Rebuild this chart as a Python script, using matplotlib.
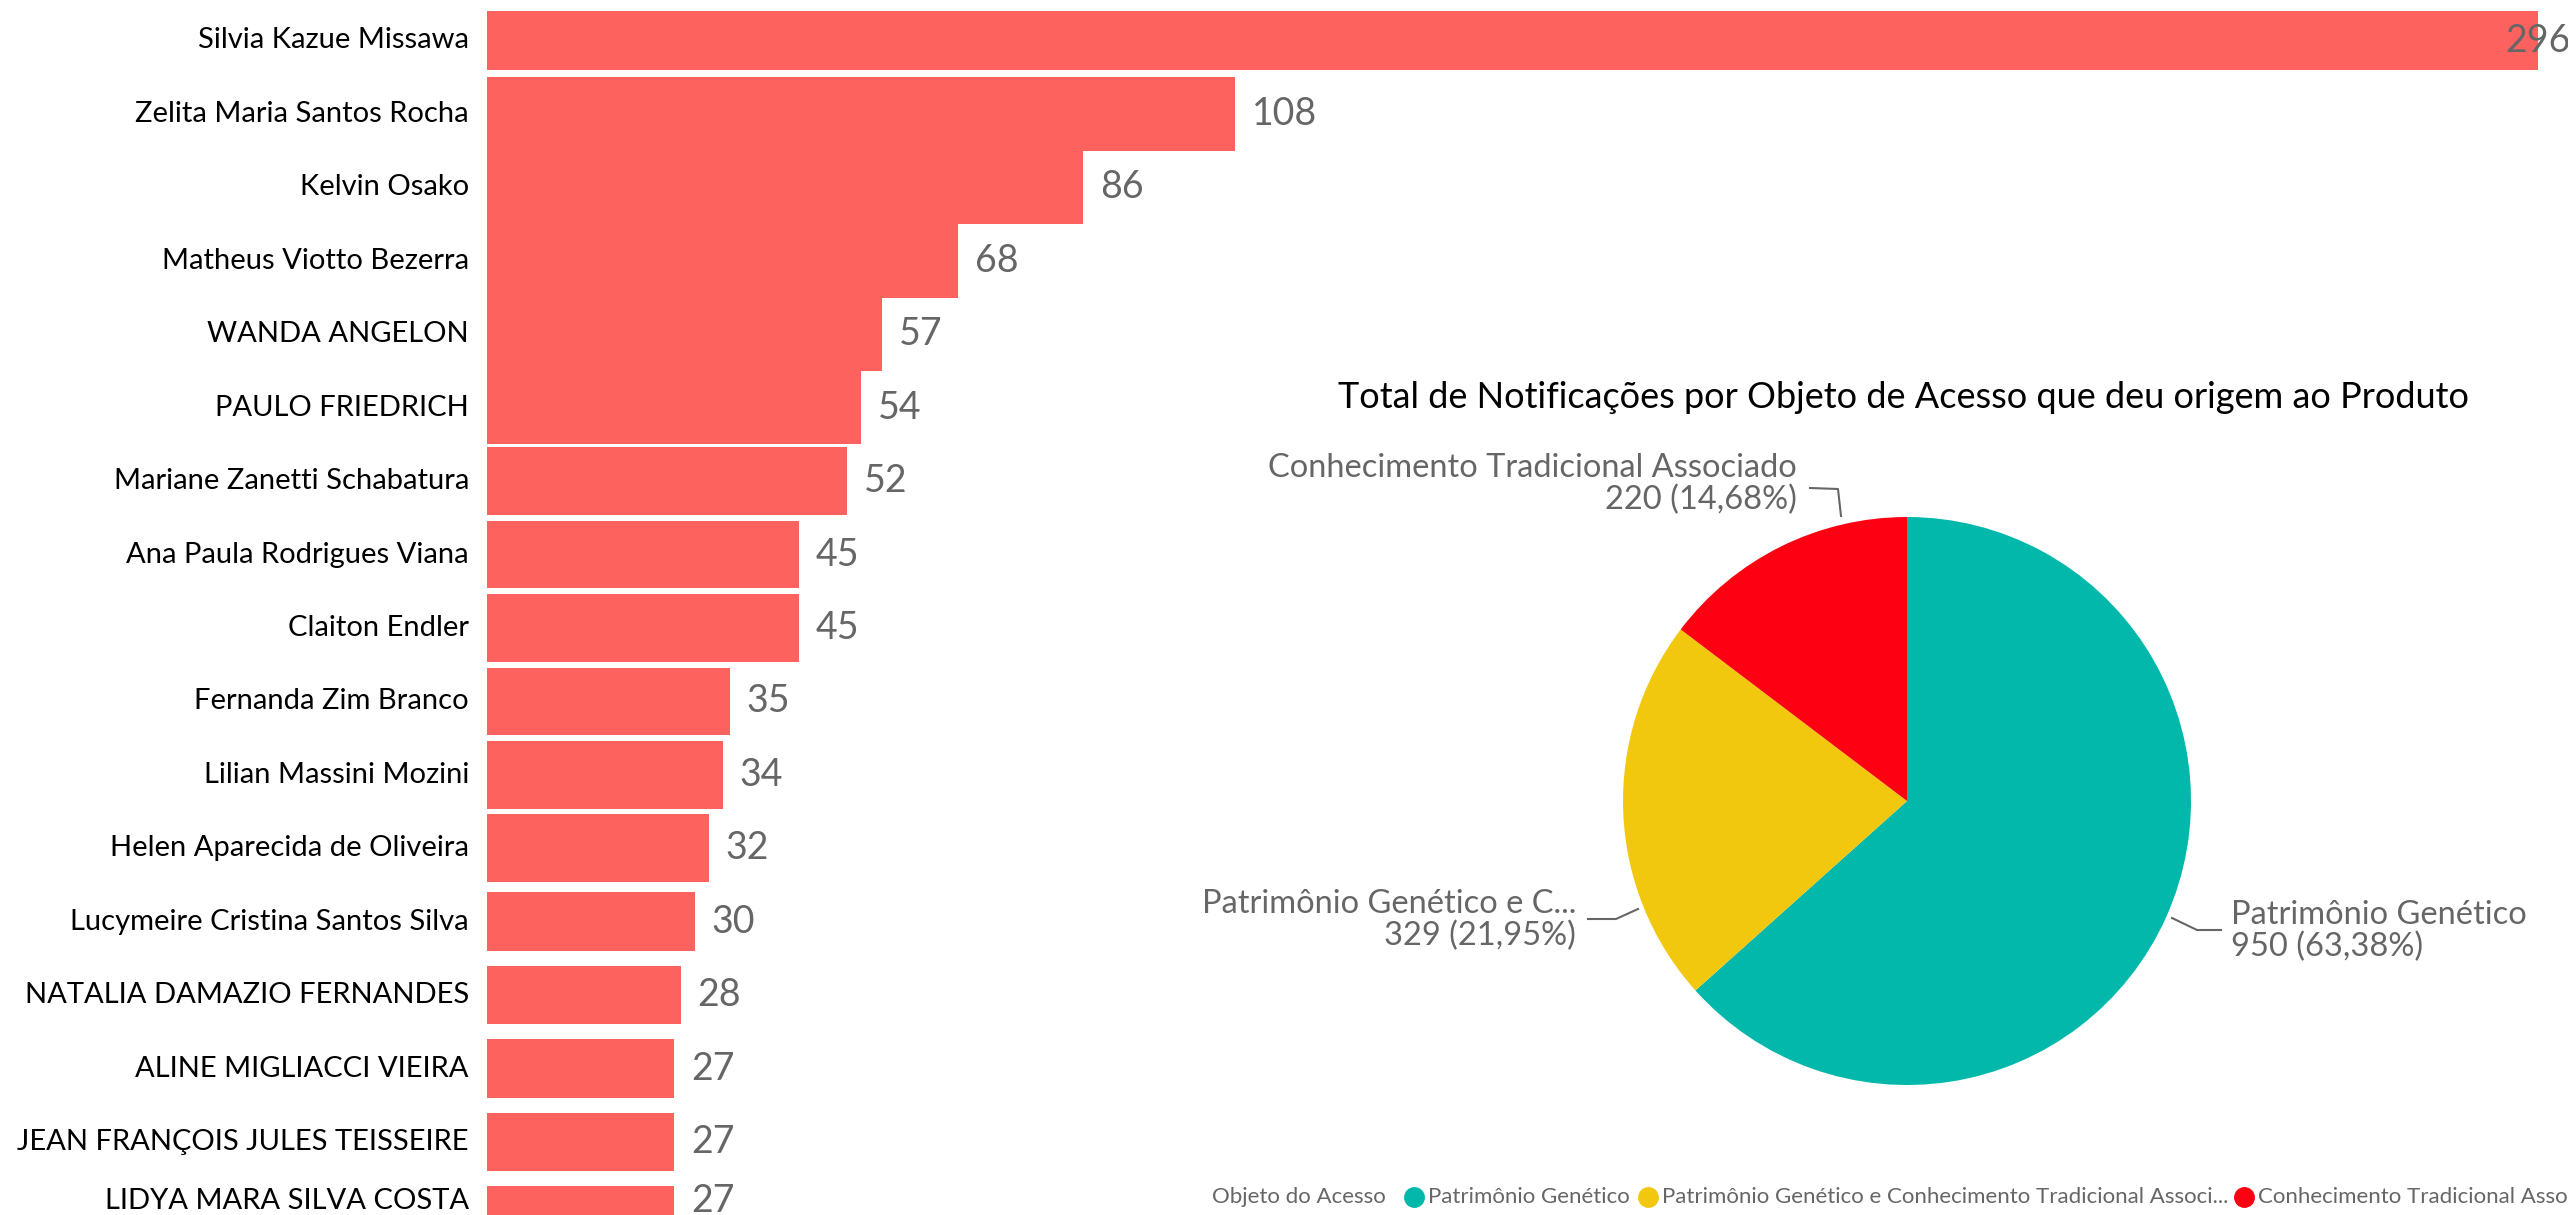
import matplotlib
matplotlib.use("Agg")
import matplotlib.pyplot as plt
import numpy as np

plt.rcParams["font.family"] = ["Lato", "DejaVu Sans"]

# ─── Data ───────────────────────────────────────────────────────────────────
names = [
    "Silvia Kazue Missawa", "Zelita Maria Santos Rocha", "Kelvin Osako",
    "Matheus Viotto Bezerra", "WANDA ANGELON", "PAULO FRIEDRICH",
    "Mariane Zanetti Schabatura", "Ana Paula Rodrigues Viana", "Claiton Endler",
    "Fernanda Zim Branco", "Lilian Massini Mozini", "Helen Aparecida de Oliveira",
    "Lucymeire Cristina Santos Silva", "NATALIA DAMAZIO FERNANDES",
    "ALINE MIGLIACCI VIEIRA", "JEAN FRANÇOIS JULES TEISSEIRE", "LIDYA MARA SILVA COSTA",
]
counts = [296, 108, 86, 68, 57, 54, 52, 45, 45, 35, 34, 32, 30, 28, 27, 27, 27]

pie_labels = ["Patrimônio Genético", "Patrimônio Genético e C...", "Conhecimento Tradicional Associado"]
legend_labels = ["Patrimônio Genético",
                 "Patrimônio Genético e Conhecimento Tradicional Associ...",
                 "Conhecimento Tradicional Associado"]
pie_values = [950, 329, 220]
pie_pct = ["63,38%", "21,95%", "14,68%"]

# ─── Style ──────────────────────────────────────────────────────────────────
BAR = "#FD625E"
PIE_COLORS = ["#01B8AA", "#F2C80F", "#FD0012"]
GRAY = "#666666"
bar_heights = [0.81] + [1.0] * 5 + [0.92] * 6 + [0.8] * 5

W, H = 2568, 1215
fig = plt.figure(figsize=(W / 100, H / 100), dpi=100)

# ─── Bar chart ──────────────────────────────────────────────────────────────
x0 = 487
ax = fig.add_axes([x0 / W, 0, 1 - x0 / W, 1])
y = np.arange(len(names))
ax.barh(y, counts, height=bar_heights, color=BAR, linewidth=0)
ax.set_xlim(0, (W - x0) / 6.93)
row0, pitch = 40.5, 73.43
ax.set_ylim((H - row0) / pitch, -row0 / pitch)
ax.set_xticks([])
ax.set_yticks([])
for s in ax.spines.values():
    s.set_visible(False)

# the last row is cut by the bottom edge, its labels get pushed up to stay visible
for i, (name, v) in enumerate(zip(names, counts)):
    dy = 10 if i == len(names) - 1 else 0
    ax.annotate(name, (0, i), xytext=(-13, dy), textcoords="offset points",
                ha="right", va="center", fontsize=21, color="black",
                annotation_clip=False)
    if i == 0:
        ax.annotate(str(v), (ax.get_xlim()[1], i), xytext=(2, 0),
                    textcoords="offset points", ha="right", va="center",
                    fontsize=27, color=GRAY)
    else:
        ax.annotate(str(v), (v, i), xytext=(12, dy), textcoords="offset points",
                    ha="left", va="center", fontsize=27, color=GRAY,
                    annotation_clip=False)

# ─── Pie chart ──────────────────────────────────────────────────────────────
cx, cy, r = 1907, 801, 284
pax = fig.add_axes([(cx - r) / W, (H - cy - r) / H, 2 * r / W, 2 * r / H])
pax.pie(pie_values, colors=PIE_COLORS, startangle=90, counterclock=False,
        wedgeprops=dict(linewidth=0))
pax.set_xlim(-1, 1)
pax.set_ylim(-1, 1)
pax.set_aspect("equal")


def px(xp, yp):
    return (xp - cx) / r, (cy - yp) / r


leaders = [
    [(2172, 918), (2197, 930), (2221, 930)],
    [(1638, 909), (1616, 919), (1588, 919)],
    [(1841, 516), (1838, 489), (1810, 488)],
]
for pts in leaders:
    xs, ys = zip(*[px(*p) for p in pts])
    pax.plot(xs, ys, color=GRAY, lw=1.5, clip_on=False)

label_pos = [((2231, 931), "left"), ((1576, 920), "right"), ((1797, 484), "right")]
for (p, ha), lab, v, pc in zip(label_pos, pie_labels, pie_values, pie_pct):
    tx, ty = px(*p)
    pax.text(tx, ty, f"{lab}\n{v} ({pc})", ha=ha, va="center", ma=ha,
             fontsize=23.5, color=GRAY, linespacing=1.05, clip_on=False)

fig.text(1903 / W, 1 - 398 / H,
         "Total de Notificações por Objeto de Acesso que deu origem ao Produto",
         ha="center", va="center", fontsize=26, color="black")

# ─── Legend ─────────────────────────────────────────────────────────────────
ly = 1 - 1197 / H
fig.text(1212 / W, ly, "Objeto do Acesso", ha="left", va="center",
         fontsize=16, color=GRAY)
dot_x = [1414, 1648, 2244]
for dx, col, lab in zip(dot_x, PIE_COLORS, legend_labels):
    fig.lines.append(plt.Line2D([dx / W], [ly], marker="o", markersize=14,
                                color=col, linestyle="none",
                                transform=fig.transFigure, figure=fig))
    fig.text((dx + 14) / W, ly, lab, ha="left", va="center", fontsize=16,
             color=GRAY)

fig.savefig("out.png", dpi=100)
